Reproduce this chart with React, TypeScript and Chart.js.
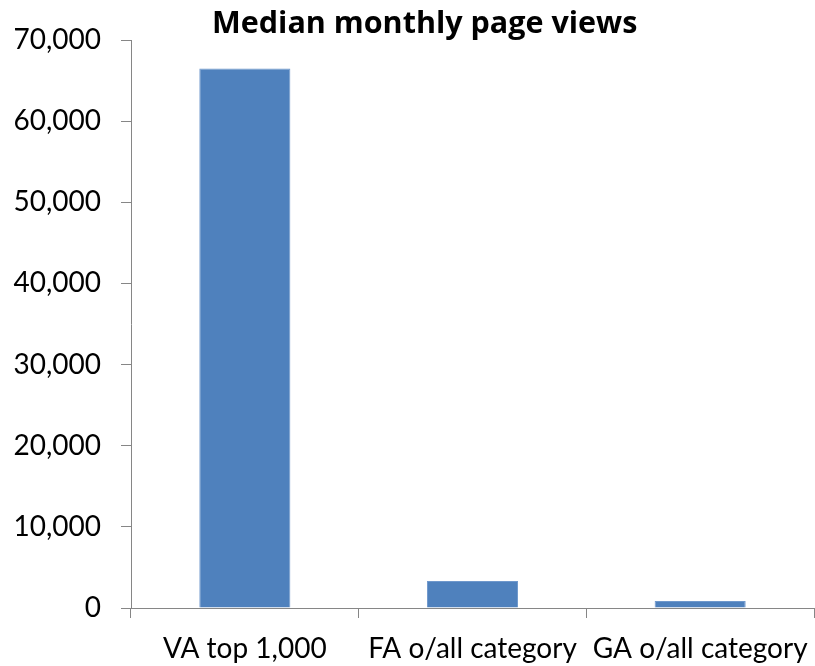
import React, { useEffect, useRef } from "react";
import { Chart, registerables } from "chart.js";

Chart.register(...registerables);

const categories = ["VA top 1,000", "FA o/all category", "GA o/all category"];
const medianViews = [66500, 3330, 860];
const yTicks = [0, 10000, 20000, 30000, 40000, 50000, 60000, 70000];
const titleText = "Median monthly page views";

const FONT = "Lato, 'Open Sans', sans-serif";
const TITLE_FONT = "'Open Sans', Lato, sans-serif";
const AXIS = "#868686";

export default function App() {
  const ref = useRef<HTMLCanvasElement | null>(null);
  useEffect(() => {
    if (!ref.current) return;
    const titlePlugin = {
      id: "customTitle",
      afterDraw(chart: any) {
        const { ctx, chartArea } = chart;
        ctx.save();
        ctx.font = `bold 30.5px ${TITLE_FONT}`;
        ctx.fillStyle = "#000";
        ctx.textAlign = "center";
        ctx.textBaseline = "alphabetic";
        const x = chartArea.left + (chartArea.right - chartArea.left) * 0.43;
        ctx.fillText(titleText, x, chartArea.top - 7);
        ctx.restore();
      },
    };
    const chart = new Chart(ref.current, {
      type: "bar",
      data: {
        labels: categories,
        datasets: [
          {
            data: medianViews,
            backgroundColor: "#4F81BD",
            borderColor: "#6F98CC",
            borderWidth: 1,
            categoryPercentage: 1,
            barPercentage: 0.4,
          },
        ],
      },
      options: {
        responsive: false,
        animation: false,
        layout: { padding: { top: 40, right: 1, left: 0, bottom: 0 } },
        plugins: { legend: { display: false }, title: { display: false }, tooltip: { enabled: false } },
        scales: {
          x: {
            grid: { display: true, drawOnChartArea: false, drawTicks: true, tickLength: 10, color: AXIS, offset: true },
            border: { display: true, color: AXIS, width: 1 },
            ticks: {
              autoSkip: false,
              maxRotation: 0,
              minRotation: 0,
              padding: 14,
              color: "#000",
              font: { family: FONT, size: 28 },
            },
            afterFit(scale: any) {
              scale.height = 58;
              scale.paddingLeft = 0;
              scale.paddingRight = 0;
            },
          },
          y: {
            min: 0,
            max: 70000,
            afterBuildTicks(scale: any) {
              scale.ticks = yTicks.map((v) => ({ value: v }));
            },
            grid: { display: true, drawOnChartArea: false, drawTicks: true, tickLength: 10, color: AXIS },
            border: { display: true, color: AXIS, width: 1 },
            ticks: {
              padding: 20,
              color: "#000",
              font: { family: FONT, size: 28 },
              callback: (v: any) => Number(v).toLocaleString("en-US"),
            },
            afterFit(scale: any) {
              scale.width = 131;
            },
          },
        },
      },
      plugins: [titlePlugin],
    });
    return () => chart.destroy();
  }, []);
  return (
    <div style={{ position: "absolute", left: 0, top: 0, width: 815, height: 666, background: "#fff" }}>
      <canvas ref={ref} width={815} height={666} />
    </div>
  );
}
